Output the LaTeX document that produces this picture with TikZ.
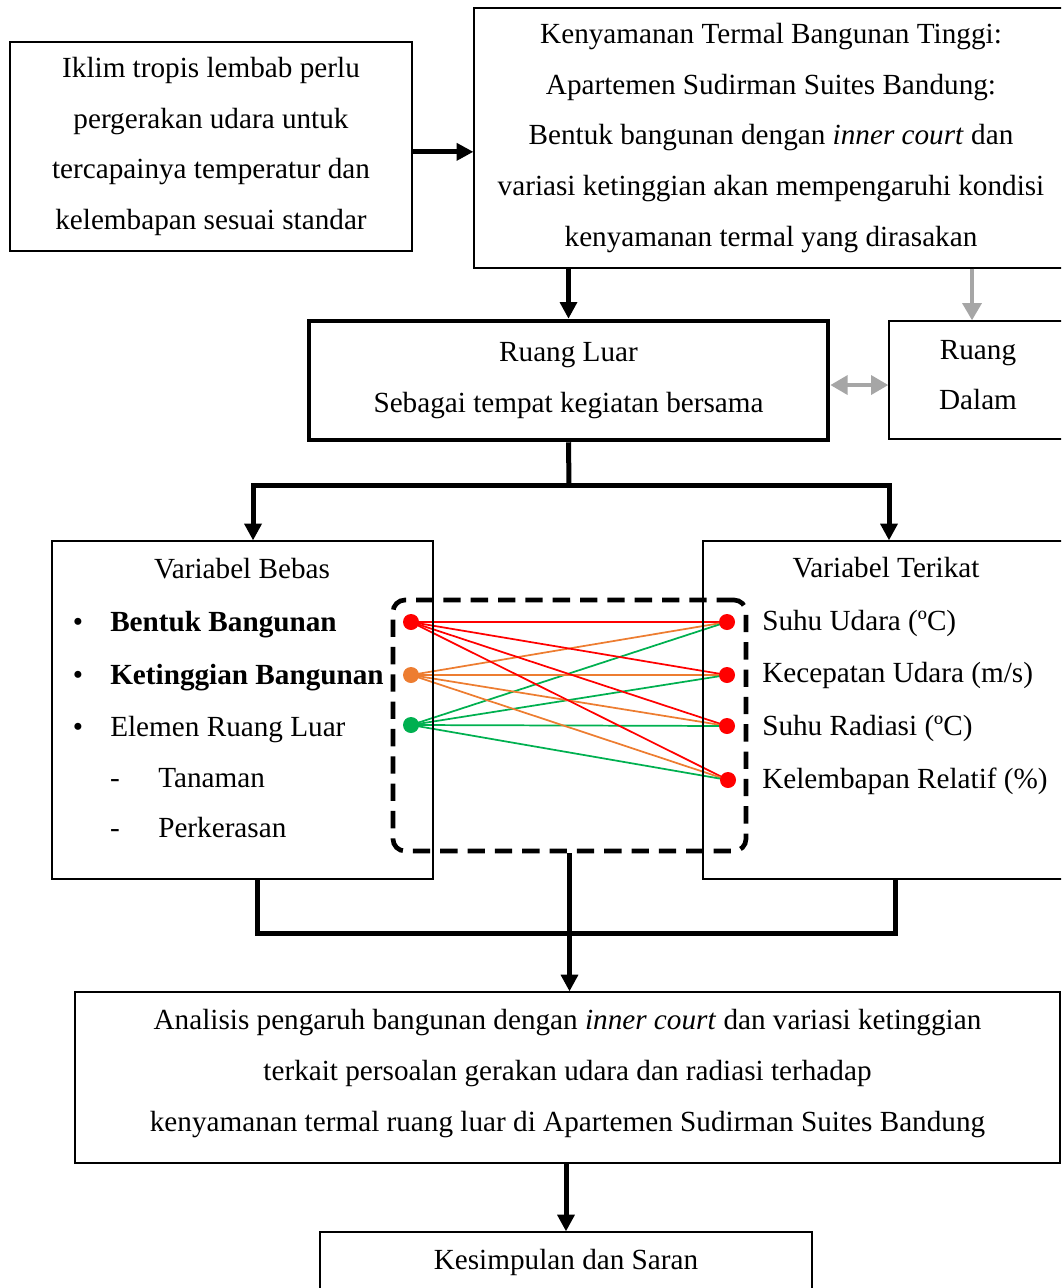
\documentclass[tikz,border=0pt]{standalone}
\usepackage{fontspec}
\setmainfont{Liberation Serif}
\usetikzlibrary{arrows.meta,backgrounds}
\definecolor{lgray}{RGB}{166,166,166}
\definecolor{cred}{RGB}{255,0,0}
\definecolor{corange}{RGB}{237,125,49}
\definecolor{cgreen}{RGB}{0,176,80}
\begin{document}
\begin{tikzpicture}[x=0.75pt,y=-0.75pt,
  every node/.style={font=\fontsize{21.9}{37.9}\selectfont},
  box/.style={draw, line width=0.9pt, inner sep=0pt, align=center},
  thickbox/.style={draw, line width=3.4pt, inner sep=0pt, align=center},
  conn/.style={line width=3.75pt},
  arr/.style={line width=3.75pt, -{Triangle[length=12.5pt,width=12.5pt]}},
  garr/.style={line width=3.5pt, draw=lgray, -{Triangle[length=13pt,width=14pt]}},
  gdarr/.style={line width=3.5pt, draw=lgray, {Triangle[length=13pt,width=14pt]}-{Triangle[length=13pt,width=14pt]}},
  dashbox/.style={draw, line width=3.5pt, dash pattern=on 13pt off 7.5pt, rounded corners=9pt, inner sep=0pt},
  dot/.style={circle, inner sep=0pt, minimum size=12pt, fill=#1},
  cline/.style={line width=1.3pt, draw=#1},
  txt/.style={inner sep=0pt, align=center}
]
\clip (0,0) rectangle (1061,1288);

% top boxes
\node[box, minimum width=301.5pt, minimum height=156.75pt] (iklim) at (211,146.5)
  {Iklim tropis lembab perlu\\pergerakan udara untuk\\tercapainya temperatur dan\\kelembapan sesuai standar};
\node[box, minimum width=445.5pt, minimum height=195pt] (ken) at (771,138)
  {Kenyamanan Termal Bangunan Tinggi:\\Apartemen Sudirman Suites Bandung:\\Bentuk bangunan dengan \textit{inner court} dan\\variasi ketinggian akan mempengaruhi kondisi\\kenyamanan termal yang dirasakan};

\node[thickbox, minimum width=389.25pt, minimum height=89.25pt] (rl) at (568.5,380.5)
  {Ruang Luar\\Sebagai tempat kegiatan bersama};
\node[box, minimum width=133.5pt, minimum height=88.5pt] (rd) at (978,380) {};
\node[txt] (rdt) at (978,375) {Ruang\\Dalam};

% variable boxes
\node[box, minimum width=285.75pt, minimum height=253.5pt] (vb) at (242.5,710) {};
\node[box, minimum width=274.5pt, minimum height=253.5pt] (vt) at (886,710) {};

\node[txt, anchor=mid] (vbt) at (242,575) {Variabel Bebas};
\node[txt, anchor=mid] (b1) at (78,628) {•};
\node[txt, anchor=mid west] (b1t) at (110,628) {\textbf{Bentuk Bangunan}};
\node[txt, anchor=mid] (b2) at (78,681) {•};
\node[txt, anchor=mid west] (b2t) at (110,681) {\textbf{Ketinggian Bangunan}};
\node[txt, anchor=mid] (b3) at (78,733) {•};
\node[txt, anchor=mid west] (b3t) at (110,733) {Elemen Ruang Luar};
\node[txt, anchor=mid] (d1) at (115,784) {-};
\node[txt, anchor=mid west] (d1t) at (158,784) {Tanaman};
\node[txt, anchor=mid] (d2) at (115,834) {-};
\node[txt, anchor=mid west] (d2t) at (158,834) {Perkerasan};

\node[txt, anchor=mid] (vtt) at (886,574) {Variabel Terikat};
\node[txt, anchor=mid west] (t1) at (762,627) {Suhu Udara (ºC)};
\node[txt, anchor=mid west] (t2) at (762,679) {Kecepatan Udara (m/s)};
\node[txt, anchor=mid west] (t3) at (762,732) {Suhu Radiasi (ºC)};
\node[txt, anchor=mid west] (t4) at (762,785) {Kelembapan Relatif (\%)};

% dashed box and dots
\node[dashbox, minimum width=264.75pt, minimum height=188.25pt] (db) at (569.5,725.5) {};
\node[dot=cred] (l1) at (411,622) {};
\node[dot=corange] (l2) at (411,675) {};
\node[dot=cgreen] (l3) at (411,725) {};
\node[dot=cred] (r1) at (727,622) {};
\node[dot=cred] (r2) at (727,675) {};
\node[dot=cred] (r3) at (727,726) {};
\node[dot=cred] (r4) at (728,780) {};
\begin{scope}[on background layer]
  \foreach \r in {r1,r2,r3,r4} {
    \draw[cline=cred] (l1.center) -- (\r.center);
    \draw[cline=corange] (l2.center) -- (\r.center);
    \draw[cline=cgreen] (l3.center) -- (\r.center);
  }
\end{scope}

% bottom boxes
\node[box, minimum width=738.75pt, minimum height=128.25pt] (an) at (567.5,1077.5) {};
\node[txt] (ant) at (567.5,1073.5)
  {Analisis pengaruh bangunan dengan \textit{inner court} dan variasi ketinggian\\terkait persoalan gerakan udara dan radiasi terhadap\\kenyamanan termal ruang luar di Apartemen Sudirman Suites Bandung};
\node[box, minimum width=369pt, minimum height=84pt] (kes) at (566,1288) {};
\node[txt, anchor=mid] (kest) at (566,1266) {Kesimpulan dan Saran};

% connectors
\draw[arr] ([yshift=-4pt]iklim.east) -- ([yshift=-4pt]iklim.east -| ken.west);
\draw[arr] (rl.north |- ken.south) -- (rl.north);
\draw[garr] ([xshift=-4.5pt]rd.north |- ken.south) -- ([xshift=-4.5pt]rd.north);
\draw[gdarr] ([yshift=-3.4pt]rl.east) -- ([yshift=-3.4pt]rl.east -| rd.west);

\coordinate (br) at (569,485);
\draw[conn] (rl.south) -- (br);
\draw[arr] (br) -| ([xshift=7.9pt]vb.north);
\draw[arr] (br) -| ([xshift=2.25pt]vt.north);

\coordinate (jy) at (0,933);
\draw[conn] ([xshift=11.6pt]vb.south) -- ([xshift=11.6pt]vb.south |- jy)
  -- ([xshift=6.75pt]vt.south |- jy) -- ([xshift=6.75pt]vt.south);
\draw[arr] (db.south) -- (db.south |- an.north);
\draw[arr] (an.south -| kes.north) -- (kes.north);
\end{tikzpicture}
\end{document}
